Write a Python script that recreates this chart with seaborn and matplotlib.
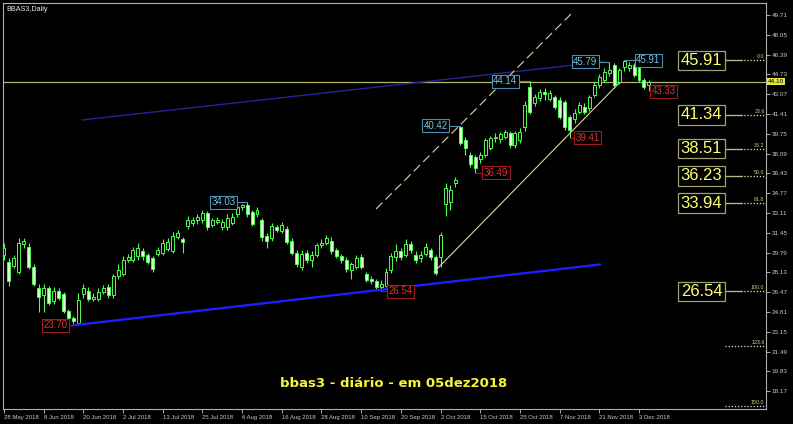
import matplotlib
matplotlib.use("Agg")
import matplotlib.pyplot as plt
import seaborn as sns
import numpy as np

# daily candles BBAS3, 28 May 2018 .. 5 Dec 2018
OPEN = [29.6, 29.0, 28.7, 28.2, 30.5, 30.3, 28.6, 26.8, 26.2, 26.8,
        25.7, 26.6, 26.3, 24.9, 24.3, 23.9, 26.3, 26.6, 25.9, 25.9,
        26.5, 26.9, 26.2, 27.8, 28.0, 29.2, 29.2, 29.5, 29.9, 29.6,
        29.3, 29.7, 29.8, 30.1, 29.9, 31.1, 30.9, 32.0, 32.3, 32.5,
        32.5, 33.1, 32.1, 32.4, 31.9, 31.9, 32.3, 33.0, 33.6, 33.8,
        33.2, 33.0, 32.5, 31.2, 31.0, 31.9, 31.6, 31.8, 30.8, 29.8,
        28.6, 29.8, 29.2, 29.6, 30.4, 30.6, 30.8, 30.0, 29.5, 29.2,
        28.3, 28.6, 29.4, 28.0, 27.6, 27.4, 26.9, 27.0, 28.3, 29.4,
        29.9, 29.6, 30.5, 29.6, 29.3, 29.7, 30.0, 29.4, 29.4, 33.9,
        34.0, 35.6, 40.3, 39.2, 38.0, 37.8, 37.6, 38.0, 38.6, 39.4,
        39.3, 39.5, 39.8, 38.8, 39.2, 40.3, 43.67, 42.33, 42.75, 43.26,
        42.7, 42.84, 42.59, 42.42, 41.16, 41.0, 41.58, 42.0, 41.91, 43.0,
        43.84, 44.26, 44.85, 45.52, 44.09, 45.35, 45.27, 45.52, 45.69, 44.26,
        43.84]
HIGH = [30.6, 29.3, 29.6, 31.0, 31.0, 30.6, 28.8, 27.2, 27.2, 27.0,
        26.9, 26.8, 26.5, 25.1, 24.5, 26.4, 27.2, 26.9, 26.4, 26.8,
        27.1, 27.2, 28.0, 28.8, 29.5, 29.7, 30.3, 30.6, 30.2, 29.8,
        29.5, 30.3, 30.9, 31.0, 31.5, 31.7, 31.1, 32.9, 32.8, 33.0,
        33.4, 33.3, 32.7, 32.8, 32.6, 33.0, 33.1, 33.8, 33.9, 34.03,
        33.4, 33.6, 32.7, 31.4, 32.3, 32.1, 32.4, 32.0, 31.0, 30.0,
        30.0, 30.0, 29.9, 30.6, 30.9, 31.3, 31.1, 30.2, 29.7, 29.4,
        29.0, 29.6, 29.7, 28.2, 27.8, 27.6, 27.5, 28.5, 29.8, 30.5,
        30.2, 30.9, 30.8, 29.9, 29.9, 30.6, 30.2, 29.6, 31.5, 35.6,
        35.5, 36.1, 40.42, 39.5, 38.2, 38.0, 38.2, 39.4, 39.6, 39.8,
        39.9, 40.1, 40.0, 40.0, 40.2, 42.5, 44.14, 43.1, 43.5, 43.6,
        43.4, 43.0, 42.8, 42.6, 41.3, 41.8, 42.4, 42.3, 43.0, 44.1,
        44.8, 45.3, 45.79, 45.7, 45.3, 45.91, 45.8, 45.7, 45.75, 44.4,
        44.3]
LOW = [29.2, 27.0, 28.5, 28.0, 30.2, 28.4, 27.0, 24.8, 24.8, 25.4,
       25.5, 25.8, 24.7, 24.0, 23.70, 23.8, 26.0, 25.7, 25.7, 25.7,
       26.3, 26.0, 26.0, 27.6, 27.8, 29.0, 29.0, 29.2, 29.2, 28.8,
       28.2, 29.5, 29.6, 29.9, 29.8, 30.9, 29.8, 31.8, 32.0, 32.2,
       32.3, 31.7, 31.9, 32.2, 31.7, 31.7, 32.1, 32.8, 33.4, 32.8,
       32.0, 32.8, 30.8, 30.2, 30.8, 31.5, 31.4, 30.5, 29.6, 28.6,
       28.3, 28.9, 28.6, 29.4, 30.2, 30.4, 29.7, 29.3, 28.9, 28.2,
       27.6, 28.4, 28.4, 27.3, 27.2, 26.7, 26.54, 26.9, 28.1, 29.1,
       29.2, 29.4, 29.8, 28.9, 29.0, 29.5, 29.2, 27.9, 28.6, 32.9,
       33.4, 35.3, 38.8, 38.0, 37.0, 36.49, 37.3, 37.8, 38.4, 39.1,
       39.0, 39.3, 38.6, 38.6, 39.0, 40.0, 41.4, 42.1, 42.5, 42.6,
       42.5, 41.8, 41.0, 40.1, 39.41, 40.7, 41.4, 41.4, 41.7, 42.8,
       43.6, 44.1, 44.6, 43.6, 43.9, 45.0, 45.0, 44.5, 44.1, 43.5,
       43.33]
CLOSE = [30.2, 27.4, 29.3, 30.6, 30.8, 28.6, 27.2, 26.1, 26.8, 25.6,
         26.6, 26.0, 24.9, 24.3, 24.1, 25.8, 26.8, 25.9, 26.1, 26.5,
         26.8, 26.2, 27.8, 28.3, 29.2, 29.4, 30.0, 30.2, 29.5, 29.0,
         28.4, 30.0, 30.6, 30.7, 31.2, 31.4, 30.7, 32.5, 32.5, 32.8,
         33.1, 31.9, 32.5, 32.5, 32.4, 32.7, 32.8, 33.6, 33.8, 33.0,
         32.2, 33.4, 31.1, 30.8, 32.0, 31.7, 32.1, 30.7, 29.8, 28.8,
         29.7, 29.2, 29.6, 30.4, 30.6, 31.0, 29.9, 29.5, 29.2, 28.4,
         28.8, 29.3, 28.6, 27.5, 27.4, 26.9, 27.2, 28.2, 29.5, 29.9,
         29.4, 30.5, 30.0, 29.2, 29.6, 30.3, 29.4, 28.1, 31.3, 35.2,
         35.0, 35.9, 39.0, 38.6, 37.2, 36.9, 38.0, 39.2, 39.4, 39.5,
         39.7, 39.9, 38.8, 39.8, 39.9, 42.2, 41.58, 42.84, 43.26, 43.1,
         43.17, 42.0, 41.16, 40.32, 40.07, 41.5, 42.17, 41.58, 42.84, 43.84,
         44.51, 44.93, 45.1, 43.84, 45.10, 45.85, 45.52, 44.68, 44.26, 43.67,
         44.10]

DATE_TICKS = [0, 8, 16, 24, 32, 40, 48, 56, 64, 72, 80, 88, 96, 104, 112, 120, 128]
DATE_LABELS = ["28 May 2018", "8 Jun 2018", "20 Jun 2018", "2 Jul 2018", "13 Jul 2018",
               "25 Jul 2018", "6 Aug 2018", "16 Aug 2018", "28 Aug 2018", "10 Sep 2018",
               "20 Sep 2018", "2 Oct 2018", "15 Oct 2018", "25 Oct 2018", "7 Nov 2018",
               "21 Nov 2018", "3 Dec 2018"]
PRICE_TICKS = [49.71, 48.05, 46.39, 44.73, 43.07, 41.41, 39.75, 38.09, 36.43, 34.77,
               33.11, 31.45, 29.79, 28.13, 26.47, 24.81, 23.15, 21.49, 19.83, 18.17]
LAST_PRICE = 44.10

# fibonacci retracement 45.91 -> 26.54
FIB_PCT = ["0.0", "23.6", "38.2", "50.0", "61.8", "100.0", "123.6", "150.0"]
FIB_LEVELS = [45.91, 41.34, 38.51, 36.23, 33.94, 26.54, 21.97, 16.93]
FIB_BOXED = [True, True, True, True, True, True, False, False]

PEAK_BARS = [49, 92, 106, 122, 125]
PEAK_VALUES = [34.03, 40.42, 44.14, 45.79, 45.91]
PEAK_SHIFT = [-4.75, -5.0, -5.0, -4.8, 4.9]
TROUGH_BARS = [14, 76, 95, 114, 130]
TROUGH_VALUES = [23.70, 26.54, 36.49, 39.41, 43.33]
TROUGH_SHIFT = [-3.6, 4.0, 4.2, 3.6, 3.0]

# trend lines (bar, price)
SUPPORT = ([14, 120.2], [23.70, 28.80])
RESIST = ([15.7, 121.0], [40.91, 45.80])
CHAN_LOW = ([86.7, 124.0], [28.17, 44.01])
CHAN_HIGH = ([75.0, 114.5], [33.45, 49.88])

sns.set_style("dark")
plt.rcParams['font.family'] = ['Liberation Sans', 'DejaVu Sans']

EDGE = '#4cff4c'
BEAR_FILL = '#dcffdc'
BG = '#000000'

fig = plt.figure(figsize=(7.93, 4.24), dpi=100, facecolor=BG)
ax = fig.add_axes([3 / 793, 15 / 424, 763 / 793, 406 / 424])
ax.set_facecolor(BG)

x = np.arange(len(CLOSE))
o = np.array(OPEN)
c = np.array(CLOSE)
bull = c >= o
bottom = np.minimum(o, c)
height = np.maximum(np.abs(c - o), 0.04)

ax.vlines(x, LOW, HIGH, color=EDGE, lw=0.8, zorder=2)
ax.bar(x, height, bottom=bottom, width=0.6,
       color=np.where(bull, BG, BEAR_FILL), edgecolor=EDGE, linewidth=0.7, zorder=3)

# bid line
ax.axhline(LAST_PRICE, color='#b4b46a', lw=0.9, zorder=1)

# trend lines
sns.lineplot(x=SUPPORT[0], y=SUPPORT[1], ax=ax, color='#1e1eff', lw=1.7, zorder=4)
sns.lineplot(x=RESIST[0], y=RESIST[1], ax=ax, color='#24249a', lw=1.0, zorder=1)
sns.lineplot(x=CHAN_LOW[0], y=CHAN_LOW[1], ax=ax, color='#d8d8a8', lw=0.8, zorder=4)
ax.plot(CHAN_HIGH[0], CHAN_HIGH[1], color='#d8d8a8', lw=0.8, ls=(0, (8, 4)), zorder=4)

# fibonacci levels
for pct, lvl, boxed in zip(FIB_PCT, FIB_LEVELS, FIB_BOXED):
    ax.plot([145.4, 153.6], [lvl, lvl], color='#e0e0c8', lw=0.9, ls=(0, (1, 1.5)), zorder=2)
    ax.text(153.3, lvl + 0.08, pct, color='#d0d080', fontsize=3.8, ha='right', va='bottom')
    if boxed:
        ax.plot([144.8, 148.8], [lvl, lvl], color='#b8b890', lw=0.9, zorder=2)
        ax.text(140.6, lvl, f"{lvl:.2f}", color='#ffff70', fontsize=12, ha='center', va='center',
                bbox=dict(boxstyle='square,pad=0.14', fc=BG, ec='#a0a078', lw=0.9), zorder=5)

# high / low labels
for bars, vals, shifts, tc, ec in [(PEAK_BARS, PEAK_VALUES, PEAK_SHIFT, '#78c0e0', '#4a90b4'),
                                    (TROUGH_BARS, TROUGH_VALUES, TROUGH_SHIFT, '#e03030', '#a01c1c')]:
    for b, v, s in zip(bars, vals, shifts):
        edge = b + s - np.sign(s) * 2.6
        ax.plot([b, edge], [v, v], color=ec, lw=0.8, zorder=5)
        ax.text(b + s, v, f"{v:.2f}", color=tc, fontsize=7, ha='center', va='center',
                bbox=dict(boxstyle='square,pad=0.15', fc=BG, ec=ec, lw=0.8), zorder=6)

ax.set_xlim(-0.2, 153.6)
ax.set_ylim(16.68, 50.72)

for sp in ax.spines.values():
    sp.set_visible(True)
    sp.set_color('#b0b0b0')
    sp.set_linewidth(0.8)

ax.yaxis.tick_right()
ax.set_yticks(PRICE_TICKS)
ax.set_yticklabels([f"{p:.2f}" for p in PRICE_TICKS])
ax.set_xticks(DATE_TICKS)
ax.set_xticklabels(DATE_LABELS, ha='left')
ax.tick_params(axis='both', colors='#c8c8c8', length=3, width=0.6, pad=1,
               direction='out', bottom=True, right=True, left=False)
ax.tick_params(axis='x', labelsize=4.3)
ax.tick_params(axis='y', labelsize=4.6)
ax.grid(False)

ax.text(1.002, LAST_PRICE, f"{LAST_PRICE:.2f}", transform=ax.get_yaxis_transform(),
        color='black', fontsize=4.6, ha='left', va='center',
        bbox=dict(boxstyle='square,pad=0.15', fc='#e6e64a', ec='none'))

ax.text(0.004, 0.992, "BBAS3,Daily", transform=ax.transAxes, color='#e8e8e8',
        fontsize=5.2, ha='left', va='top')
ax.text(0.512, 0.064, "bbas3 - diário - em 05dez2018", transform=ax.transAxes,
        color='#f5f53a', fontsize=9.5, fontweight='bold', family='DejaVu Sans',
        ha='center', va='center')

fig.savefig("out.png", dpi=100, facecolor=BG)
